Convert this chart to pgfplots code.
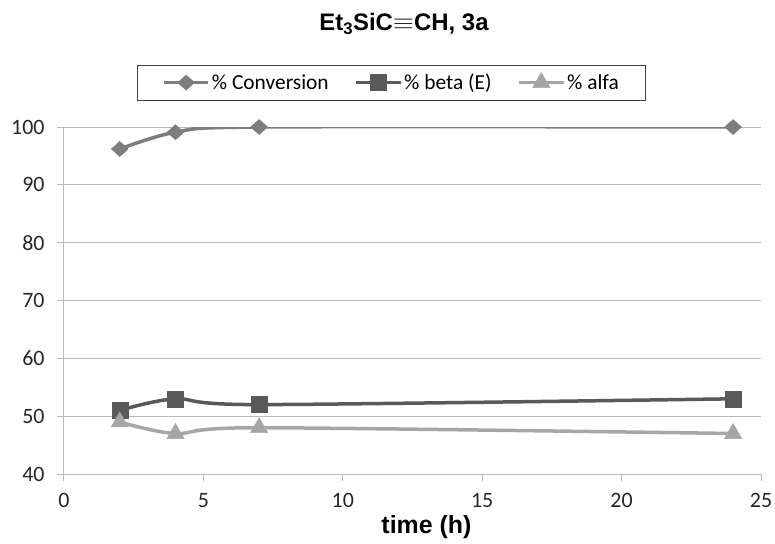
\documentclass[border=0pt]{standalone}
\usepackage{pgfplots}
\pgfplotsset{compat=1.18}
\usepackage{fontspec}
\setmainfont{Liberation Sans}
\newfontfamily\calfont{Carlito}
\definecolor{conv}{RGB}{125,125,125}
\definecolor{betac}{RGB}{89,89,89}
\definecolor{alfac}{RGB}{166,166,166}
\definecolor{gridc}{RGB}{185,185,185}
\begin{document}
\begin{tikzpicture}
\begin{axis}[
  scale only axis, width=697bp, height=347bp,
  xmin=0, xmax=25, ymin=40, ymax=100,
  xtick={0,5,10,15,20,25}, ytick={40,50,60,70,80,90,100},
  axis x line*=bottom, axis y line*=left,
  ymajorgrids, grid style={gridc, line width=1bp},
  axis line style={gridc, line width=1bp},
  tick align=outside, major tick length=7bp, tick style={gridc, line width=1bp},
  ticklabel style={font=\calfont\fontsize{22}{24}\selectfont, text=black!85},
  xticklabel style={yshift=-9bp},
  yticklabel style={xshift=-9bp},
  /pgf/number format/assume math mode=true,
  xlabel={\bfseries time (h)},
  xlabel style={font=\fontsize{25}{28}\selectfont, at={(rel axis cs:0.52,0)}, anchor=center, yshift=-53bp},
  legend columns=3,
  legend style={at={(rel axis cs:0.47,1.128)}, anchor=center, draw=black!75, line width=0.8bp,
    font=\calfont\fontsize{21.5}{24}\selectfont, inner xsep=25bp, inner ysep=7bp,
    /tikz/every even column/.append style={column sep=24bp}},
  legend image code/.code={\draw[mark repeat=2,mark phase=2] plot coordinates {(0bp,0bp)(22bp,0bp)(44bp,0bp)};},
  every axis plot/.append style={line width=3.5bp, smooth, tension=0.5},
]
\addplot[conv, mark=diamond*, mark size=7.5bp, mark options={xscale=1.5, line width=0.5bp}]
  coordinates {(2,96.2)(4,99.1)(7,100)(24,100)};
\addlegendentry{\% Conversion}
\addplot[betac, mark=square*, mark size=8bp, mark options={line width=0.5bp}]
  coordinates {(2,51)(4,53)(7,52)(24,53)};
\addlegendentry{\% beta (E)}
\addplot[alfac, mark=triangle*, mark size=10bp, mark options={line width=0.5bp}]
  coordinates {(2,49)(4,47)(7,48)(24,47)};
\addlegendentry{\% alfa}
\end{axis}
\node[font=\bfseries\fontsize{24}{27}\selectfont, anchor=base] at (340bp,443bp) {Et\textsubscript{3}SiC\raisebox{0.1ex}{\scalebox{1.1}[0.9]{$\equiv$}}CH, 3a};
\pgfresetboundingbox
\useasboundingbox (-64bp,-70bp) rectangle (711bp,474bp);
\end{tikzpicture}
\end{document}
